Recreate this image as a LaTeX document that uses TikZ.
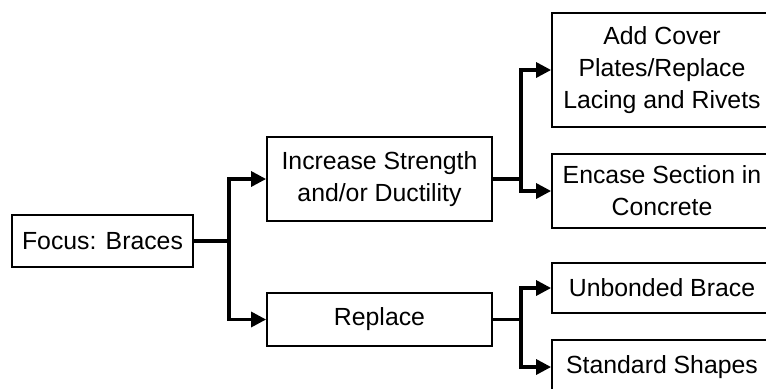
\documentclass[tikz,border=0pt]{standalone}
\usepackage{fontspec}
\setmainfont{Liberation Sans}
\usetikzlibrary{arrows.meta}
\begin{document}
\begin{tikzpicture}[x=1bp,y=-1bp,
  box/.style={draw, line width=1.8bp, align=center, inner sep=0pt,
    font=\fontsize{24.9}{32}\selectfont},
  conn/.style={line width=3.2bp},
  arr/.style={conn, -{Triangle[length=15bp,width=15bp]}}]
  \useasboundingbox (0,0) rectangle (766,388);
  \clip (0,0) rectangle (766,388);

  % tree of retrofit options
  \node[box, minimum width=181bp, minimum height=52bp] (focus) at (102.5,241) {Focus: Braces};
  \node[box, minimum width=225bp, minimum height=84bp] (incr) at (379.5,179) {Increase Strength\\and/or Ductility};
  \node[box, minimum width=225bp, minimum height=53bp] (repl) at (379.5,319.5) {Replace};
  \node[box, minimum width=220bp, minimum height=114bp] (cover) at (662,70) {Add Cover\\Plates/Replace\\Lacing and Rivets};
  \node[box, minimum width=220bp, minimum height=74bp] (encase) at (662,191) {Encase Section in\\Concrete};
  \node[box, minimum width=220bp, minimum height=50bp] (unb) at (662,288) {Unbonded Brace};
  \node[box, minimum width=220bp, minimum height=54bp] (std) at (662,367) {Standard Shapes};

  % branch points
  \coordinate (j1) at (229,241);
  \coordinate (j2) at (521,179);
  \coordinate (j3) at (521,319.5);

  \draw[conn] (focus.east) -- (j1);
  \draw[arr] (j1) |- (incr.west);
  \draw[arr] (j1) |- (repl.west);

  \draw[conn] (incr.east) -- (j2);
  \draw[arr] (j2) |- (cover.west);
  \draw[arr] (j2) |- (encase.west);

  \draw[conn] (repl.east) -- (j3);
  \draw[arr] (j3) |- (unb.west);
  \draw[arr] (j3) |- (std.west);
\end{tikzpicture}
\end{document}
